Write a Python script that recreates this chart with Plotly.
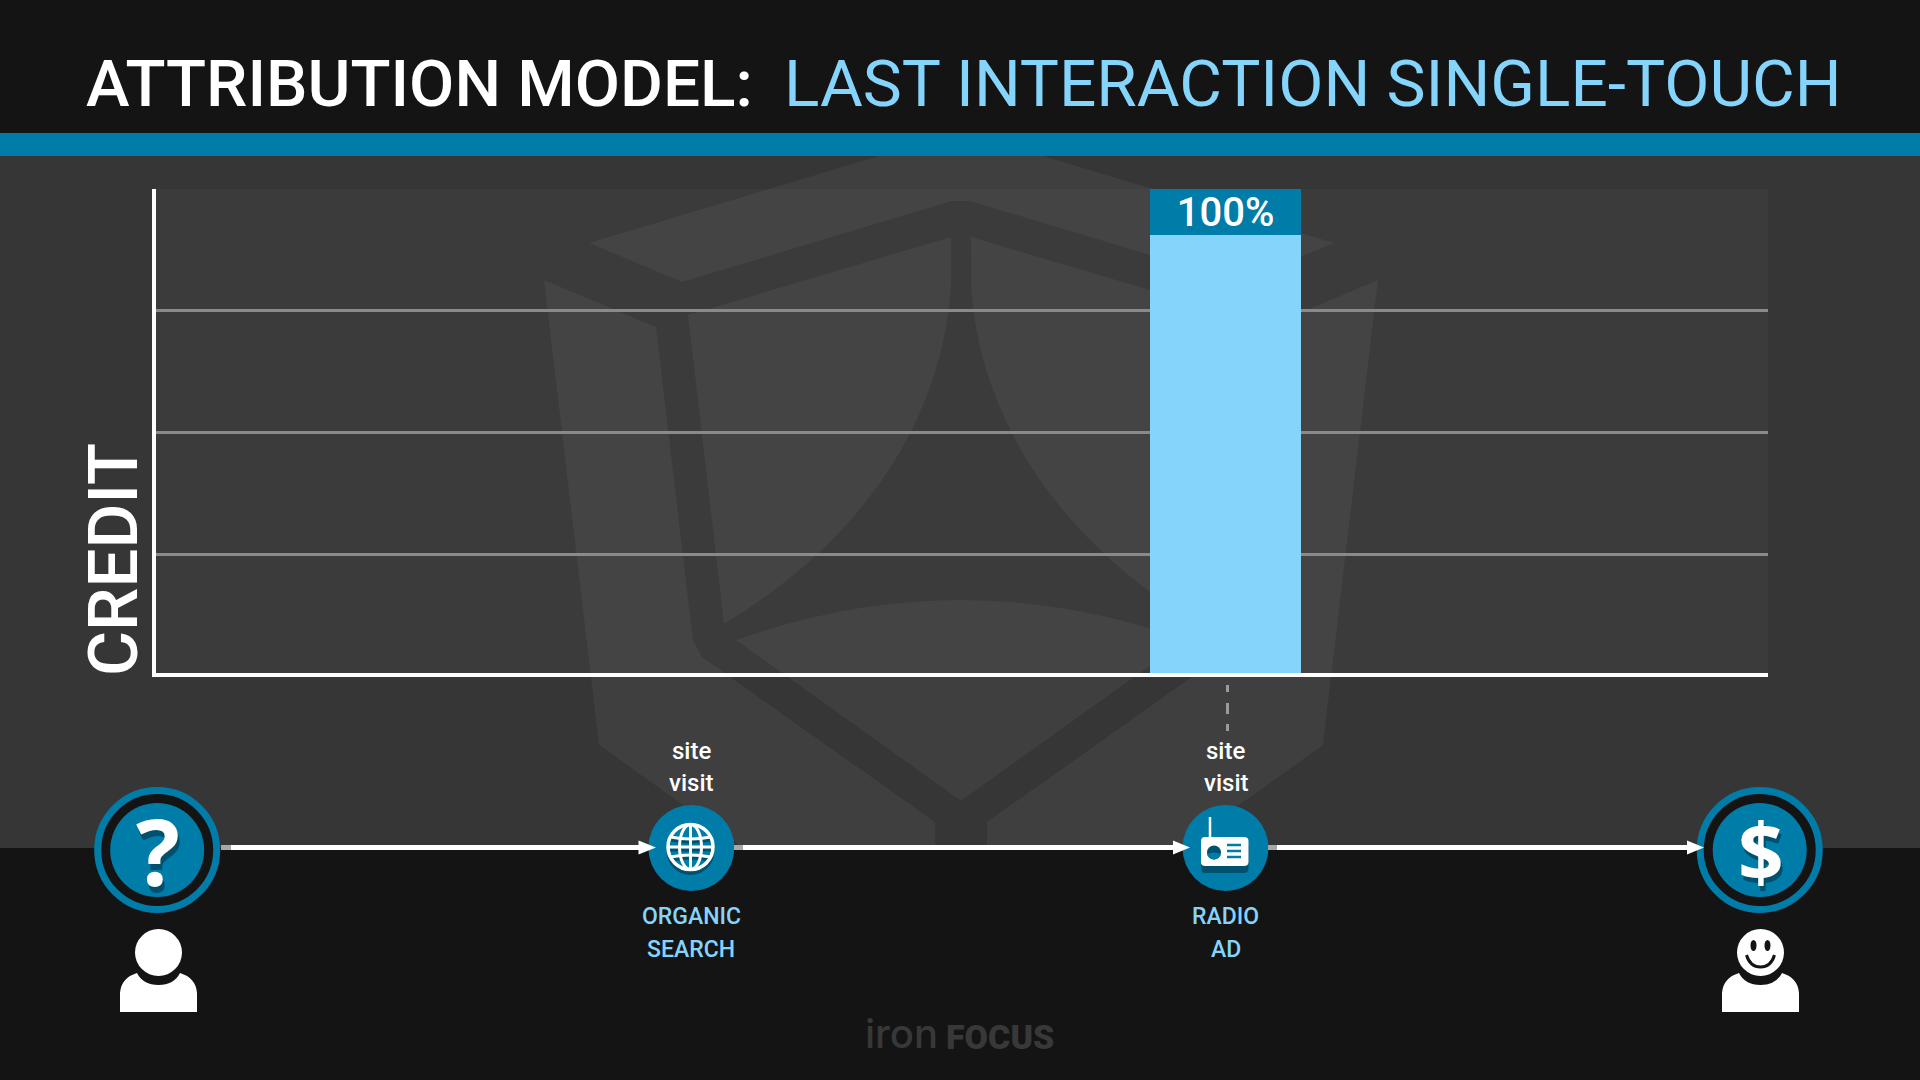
import re
import plotly.graph_objects as go

# ---- data ----
touch_index = [0, 1, 2, 3]
credit_body = [0, 0, 90.5, 0]
credit_cap = [0, 0, 9.5, 0]
credit_text = ["", "", "100%", ""]
grid_ticks = [25, 50, 75]
site_labels = [("site", "visit"), ("site", "visit")]
touch_labels = [("ORGANIC", "SEARCH"), ("RADIO", "AD")]
touch_points = [1, 2]
end_points = [0, 3]
title_left = "ATTRIBUTION MODEL:"
title_right = "LAST INTERACTION SINGLE-TOUCH"
y_title = "CREDIT"

BG = "#141414"; GREY = "#363636"; MARK = "#3f3f3f"; BLUE = "#007ca8"
LIGHT = "#84d4fb"; SHADOW = "#01506d"; W = 1920; H = 1080
TITLE_FONT = "Roboto"

def fx(x): return x / W
def fy(y): return 1 - y / H
def pth(s):
    out = []
    for tok in re.findall(r"[A-Za-z]|[-\d.]+", s):
        out.append(tok)
    res, xy = [], 0
    for t in out:
        if t.isalpha():
            res.append(t); xy = 0
        else:
            res.append(f"{fx(float(t)):.6f}" if xy == 0 else f"{fy(float(t)):.6f}")
            xy = 1 - xy
    return " ".join(res)

shapes = []
def path(s, fill=None, line=None, lw=0, layer="above"):
    shapes.append(dict(type="path", xref="paper", yref="paper", path=pth(s), layer=layer,
                       fillcolor=fill or "rgba(0,0,0,0)",
                       line=dict(color=line or "rgba(0,0,0,0)", width=lw)))
def ell(cx, cy, rx, ry=None, fill=None, line=None, lw=0, layer="above"):
    ry = ry or rx
    shapes.append(dict(type="circle", xref="paper", yref="paper", layer=layer,
                       x0=fx(cx-rx), x1=fx(cx+rx), y0=fy(cy+ry), y1=fy(cy-ry),
                       fillcolor=fill or "rgba(0,0,0,0)",
                       line=dict(color=line or "rgba(0,0,0,0)", width=lw)))
def rect(x0, y0, x1, y1, fill, layer="below"):
    shapes.append(dict(type="rect", xref="paper", yref="paper", layer=layer, x0=fx(x0), x1=fx(x1),
                       y0=fy(y1), y1=fy(y0), fillcolor=fill, line=dict(width=0)))

# backdrop
rect(0, 156, W, 848, GREY)
rect(0, 133, W, 156, BLUE)
# watermark logo
M = lambda x: 1922 - x
path("M589 243 L879 156 L1043 156 L1334 243 L1240 282 L970 201 L952 201 L682 282 Z", MARK, layer="below")
L = [(544,280),(656,327),(687,590),(693,640),(702,657),(935,822),(935,848),(743,848),(599,745)]
path("M" + " L".join(f"{x} {y}" for x, y in L) + " Z", MARK, layer="below")
path("M" + " L".join(f"{M(x)} {y}" for x, y in L) + " Z", MARK, layer="below")
path("M688 315 L951 237 L951 283 C945 400 880 530 724 624 Z", MARK, layer="below")
path(f"M{M(688)} 315 L{M(951)} 237 L{M(951)} 283 C{M(945)} 400 {M(880)} 530 {M(724)} 624 Z", MARK, layer="below")
path("M736 640 Q961 560 1186 640 L961 801 Z", MARK, layer="below")
rect(156, 189, 1768, 675, "rgba(255,255,255,0.028)")

# dashed connector
path("M1227.5 685 L1227.5 692 M1227.5 703 L1227.5 714 M1227.5 724 L1227.5 731", line="#9a9a9a", lw=3, layer="below")

# connectors
LY = 847.5
for gx0, gx1, wx1, hx0, hx1 in [(221,231,640,638.5,656),(734,743,1174,1173,1190),(1268,1277,1688,1687,1704)]:
    path(f"M{gx0} {LY} L{gx1} {LY}", line="#a8a8a8", lw=5)
    path(f"M{gx1} {LY} L{wx1} {LY}", line="#ffffff", lw=5)
    path(f"M{hx0} {LY-7} L{hx1} {LY} L{hx0} {LY+7} Z", "#ffffff")

# globe
gx, gy = 690.5, 847
ell(gx, gy+4, 24, fill=SHADOW)
ell(gx, gy, 24, fill=BLUE)
for off, col in [(3, SHADOW), (0, "#ffffff")]:
    path(f"M{gx-20} {gy-10+off} Q{gx} {gy-6+off} {gx+20} {gy-10+off}", line=col, lw=3)
    path(f"M{gx-20} {gy+10+off} Q{gx} {gy+6+off} {gx+20} {gy+10+off}", line=col, lw=3)
    path(f"M{gx-23} {gy+off} L{gx+23} {gy+off}", line=col, lw=3)
ell(gx, gy, 22.5, line="#ffffff", lw=3.5)
ell(gx, gy, 11, 22.5, line="#ffffff", lw=3)
path(f"M{gx} {gy-22} L{gx} {gy+22}", line="#ffffff", lw=3)
# radio
path("M1205 843 L1244 843 Q1248.5 843 1248.5 847 L1248.5 868 Q1248.5 873 1244 873 L1205 873 Q1201 873 1201 868 L1201 847 Q1201 843 1205 843 Z", SHADOW)
path("M1205 837 L1244 837 Q1248.5 837 1248.5 841 L1248.5 862 Q1248.5 866 1244 866 L1205 866 Q1201 866 1201 862 L1201 841 Q1201 837 1205 837 Z", "#ffffff")
path("M1210 817 L1210 838", line="#ffffff", lw=2.5)
ell(1214, 852.5, 7, 7, fill=SHADOW)
path("M1207 854 Q1214 851 1221 854 Q1220 859 1214 859.5 Q1208 859 1207 854 Z", BLUE)
for yy in (845, 851, 857):
    path(f"M1227 {yy} L1241 {yy}", line=BLUE, lw=2.5)
# people
for c in (158.5, 1760.5):
    ell(c, 952.5, 23.5, fill="#ffffff")
    path(f"M{c-38.5} 1012 L{c-38.5} 993 Q{c-37.5} 978 {c-21.5} 973 Q{c-15.5} 985 {c} 985 "
         f"Q{c+15.5} 985 {c+21.5} 973 Q{c+37.5} 978 {c+38.5} 993 L{c+38.5} 1012 Z", "#ffffff")
ell(1753.5, 945.5, 3, 5.5, fill=BG)
ell(1767.5, 945.5, 3, 5.5, fill=BG)
path("M1746.5 955 Q1750 967 1760.5 967 Q1771 967 1774.5 955", line=BG, lw=3)

fig = go.Figure()
fig.add_bar(x=touch_index, y=credit_body, width=0.2826, marker=dict(color=LIGHT, line=dict(width=0)), hoverinfo="skip")
fig.add_bar(x=touch_index, y=credit_cap, width=0.2826, marker=dict(color=BLUE, line=dict(width=0)),
            text=credit_text, textposition="inside", insidetextanchor="middle", textangle=0,
            constraintext="none", textfont=dict(family=TITLE_FONT, size=40, color="#ffffff", weight=500), hoverinfo="skip")
# end points on the journey line: ring + disc
fig.add_scatter(x=end_points, y=[850, 850], yaxis="y2", mode="markers", cliponaxis=False, hoverinfo="skip",
                marker=dict(size=119, color=BG, line=dict(color=BLUE, width=7)))
fig.add_scatter(x=end_points, y=[850, 850], yaxis="y2", mode="markers", cliponaxis=False, hoverinfo="skip",
                marker=dict(size=94, color=BLUE, line=dict(width=0)))
fig.add_scatter(x=touch_points, y=[848, 848], yaxis="y2", mode="markers", cliponaxis=False, hoverinfo="skip",
                marker=dict(size=86, color=BLUE, line=dict(width=0)))

ann = []
def text(t, x, y, size, color="#ffffff", family=TITLE_FONT, weight=None, anchor="center", angle=0, shadow=None):
    f = dict(family=family, size=size, color=color)
    if weight: f["weight"] = weight
    if shadow: f["shadow"] = shadow
    ann.append(dict(text=t, x=fx(x), y=fy(y), xref="paper", yref="paper", xanchor=anchor, yanchor="middle",
                    showarrow=False, font=f, textangle=angle, align="center", borderpad=0))

text(title_left, 85, 83.5, 65.7, weight=500, anchor="left")
text(title_right, 783, 83.5, 65.7, color=LIGHT, anchor="left")
text(y_title, 113, 560, 69, weight=500, angle=-90)
px_x = lambda i: 157.2 + 534.2 * i
for i, s, t in zip(touch_points, site_labels, touch_labels):
    text(s[0], px_x(i), 751, 24, weight=500)
    text(s[1], px_x(i), 783, 24, weight=500)
    text(t[0], px_x(i), 916, 23, color=LIGHT, weight=500)
    text(t[1], px_x(i), 949, 23, color=LIGHT, weight=500)
text("?", 158, 850, 92, family="Open Sans", weight=700, shadow=f"2px 6px 0 {SHADOW}")
text("$", 1760.5, 849, 80, family="Open Sans", weight=700, shadow=f"2px 5px 0 {SHADOW}")
text("iron", 901, 1033, 40, color="#383838", family="Inter", weight=500)
text("FOCUS", 1000, 1037, 34, color="#383838", family="Roboto", weight=900)

fig.update_layout(
    width=W, height=H, autosize=False, margin=dict(l=0, r=0, t=0, b=0),
    paper_bgcolor=BG, plot_bgcolor="rgba(0,0,0,0)", barmode="stack", showlegend=False, bargap=0,
    shapes=shapes, annotations=ann,
    xaxis=dict(domain=[156/W, 1768/W], range=[-0.0022, 3.0155], anchor="y", showgrid=False, zeroline=False,
               showticklabels=False, ticks="", showline=True, linecolor="#ffffff", linewidth=4),
    yaxis=dict(domain=[1-673/H, 1-189/H], range=[0.56, 100], anchor="x", tickvals=grid_ticks, showticklabels=False, ticks="",
               gridcolor="#8a8a8a", gridwidth=2.5, zeroline=False, showline=True, linecolor="#ffffff", linewidth=4),
    yaxis2=dict(domain=[0, 1], range=[H, 0], anchor="x", visible=False, fixedrange=True),
)
fig.write_html("out.html", config={"displayModeBar": False},
               post_script="document.body.style.margin='0';document.body.style.background='#141414';")
